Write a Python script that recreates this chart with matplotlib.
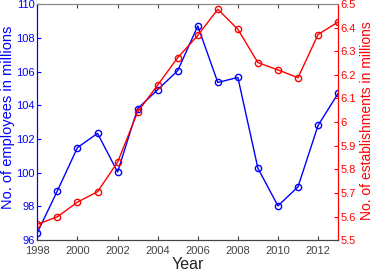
import matplotlib
matplotlib.use('Agg')
import matplotlib.pyplot as plt
from matplotlib.ticker import FormatStrFormatter, MultipleLocator

# ==================== 数据 ====================
years = [1998, 1999, 2000, 2001, 2002, 2003, 2004, 2005,
         2006, 2007, 2008, 2009, 2010, 2011, 2012, 2013]
employees = [96.45, 98.93, 101.49, 102.33, 100.04, 103.8, 104.92, 106.05,
             108.7, 105.35, 105.65, 100.26, 98.03, 99.16, 102.8, 104.7]
establishments = [5.567, 5.599, 5.661, 5.705, 5.83, 6.043, 6.157, 6.273,
                  6.367, 6.478, 6.393, 6.252, 6.221, 6.188, 6.371, 6.424]

# ==================== 绘图 ====================
plt.rcParams['font.family'] = ['Liberation Sans', 'DejaVu Sans']

fig = plt.figure(figsize=(3.74, 2.71), dpi=100)
ax1 = fig.add_axes([0.1, 0.114, 0.804, 0.871])
ax2 = ax1.twinx()

ax1.plot(years, employees, color='blue', lw=1, marker='o', ms=4.5,
         mfc='none', mew=1)
ax2.plot(years, establishments, color='red', lw=1, marker='o', ms=4.5,
         mfc='none', mew=1)

ax1.set_xlim(1998, 2013)
ax1.set_ylim(96, 110)
ax2.set_ylim(5.5, 6.5)
ax1.xaxis.set_major_locator(MultipleLocator(2))
ax1.yaxis.set_major_locator(MultipleLocator(2))
ax2.yaxis.set_major_locator(MultipleLocator(0.1))
ax2.yaxis.set_major_formatter(FormatStrFormatter('%g'))

ax1.set_xlabel('Year', fontsize=11.5, color='#222222')
ax1.xaxis.set_label_coords(0.5, -0.07)
ax1.set_ylabel('No. of employees in millions', fontsize=10.5, color='blue')
ax1.yaxis.set_label_coords(-0.076, 0.52)
ax2.set_ylabel('No. of establishments in millions', fontsize=10,
               color='red', rotation=90)
ax2.yaxis.set_label_coords(1.073, 0.505)

ax1.tick_params(axis='x', direction='in', length=3, labelsize=8,
                colors='#444444', top=True, pad=4)
ax1.tick_params(axis='y', direction='in', length=3, labelsize=8,
                colors='blue', pad=2)
ax2.tick_params(axis='y', direction='in', length=3, labelsize=8,
                colors='red', pad=2)

for ax in (ax1, ax2):
    ax.spines['top'].set_color('#888888')
    ax.spines['bottom'].set_color('#444444')
    ax.spines['left'].set_color('blue')
    ax.spines['right'].set_color('red')
    for s in ax.spines.values():
        s.set_linewidth(0.8)

plt.savefig('out.png', dpi=100)
